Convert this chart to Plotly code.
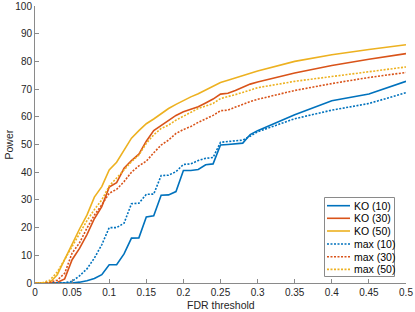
import plotly.graph_objects as go

fdr = [0.00, 0.01, 0.02, 0.03, 0.04, 0.05, 0.06, 0.07, 0.08, 0.09,
       0.10, 0.11, 0.12, 0.13, 0.14, 0.15, 0.16, 0.17, 0.18, 0.19,
       0.20, 0.21, 0.22, 0.23, 0.24, 0.25, 0.26, 0.27, 0.28, 0.29,
       0.30, 0.35, 0.40, 0.45, 0.50]

ko10 = [0, 0, 0, 0, 0, 0, 0.3, 0.8, 1.6, 3.0,
        6.6, 6.6, 10.5, 16.2, 16.3, 23.8, 24.3, 31.7, 31.8, 33.0,
        40.6, 40.6, 41.0, 42.7, 43.0, 49.8, 50.0, 50.2, 50.5, 53.6,
        55.0, 60.7, 65.8, 68.2, 72.8]
ko30 = [0, 0, 0, 0.2, 1.5, 8.4, 12.5, 17.5, 23.2, 27.6,
        34.6, 36.2, 41.4, 44.2, 46.5, 51.2, 55.0, 56.8, 58.5, 60.5,
        61.8, 62.6, 63.6, 65.0, 66.4, 68.2, 68.5, 69.5, 70.6, 71.8,
        72.6, 75.8, 78.5, 80.8, 82.8]
ko50 = [0, 0, 0.2, 3.0, 8.5, 14.5, 19.5, 24.5, 31.0, 34.8,
        40.8, 43.6, 48.0, 52.3, 55.0, 57.5, 59.2, 61.2, 63.0, 64.5,
        66.0, 67.2, 68.3, 69.6, 70.8, 72.4, 73.2, 74.0, 74.8, 75.6,
        76.5, 80.0, 82.4, 84.3, 86.0]
max10 = [0, 0, 0, 0, 0.1, 0.6, 2.6, 5.1, 9.0, 13.8,
         20.0, 20.0, 21.6, 28.6, 28.8, 32.0, 32.1, 38.8, 38.9, 40.2,
         42.8, 43.0, 44.2, 45.0, 45.3, 50.8, 51.0, 51.2, 51.6, 53.0,
         54.6, 59.3, 62.4, 64.8, 68.7]
max30 = [0, 0, 0.3, 1.0, 3.5, 10.8, 14.5, 19.8, 24.5, 28.2,
         32.4, 33.8, 36.6, 40.0, 42.3, 44.0, 47.0, 49.8, 51.6, 54.0,
         55.4, 56.5, 58.0, 59.3, 60.5, 62.2, 62.4, 63.5, 64.6, 65.5,
         66.3, 69.5, 72.0, 74.2, 76.0]
max50 = [0, 0.1, 1.0, 4.0, 8.5, 13.2, 17.5, 22.5, 26.5, 30.0,
         35.0, 37.8, 40.8, 43.8, 46.2, 50.4, 53.5, 55.8, 57.0, 58.8,
         60.2, 61.8, 63.0, 63.9, 64.8, 66.6, 67.2, 68.0, 68.8, 69.6,
         70.5, 72.8, 74.6, 76.4, 78.0]

names = ["KO (10)", "KO (30)", "KO (50)", "max (10)", "max (30)", "max (50)"]
series = [ko10, ko30, ko50, max10, max30, max50]
colors = ["#0072BD", "#D95319", "#EDB120", "#0072BD", "#D95319", "#EDB120"]
dashes = ["solid", "solid", "solid", "2px,1.5px", "2px,1.5px", "2px,1.5px"]

xticks = [0, 0.05, 0.1, 0.15, 0.2, 0.25, 0.3, 0.35, 0.4, 0.45, 0.5]
xticklabels = ["0", "0.05", "0.1", "0.15", "0.2", "0.25", "0.3", "0.35", "0.4", "0.45", "0.5"]
yticks = [0, 10, 20, 30, 40, 50, 60, 70, 80, 90, 100]

W, H = 415, 312
ML, MR, MT, MB = 35, 9, 6, 29
PW, PH = W - ML - MR, H - MT - MB

def px_x(p):
    return (p - ML) / PW

def px_y(p):
    return (H - MB - p) / PH

fig = go.Figure()
for n, s, c, d in zip(names, series, colors, dashes):
    fig.add_trace(go.Scatter(x=fdr, y=s, mode="lines", name=n, showlegend=False,
                             line=dict(color=c, width=1.6, dash=d)))

font = "Liberation Sans, Arial, Helvetica, sans-serif"
axis_common = dict(showgrid=False, zeroline=False, showline=True, automargin=False,
                   linecolor="#8a8a8a", linewidth=1, ticks="inside",
                   ticklen=4, tickcolor="#8a8a8a", mirror=False,
                   tickfont=dict(family=font, size=10, color="#262626"))
fig.update_xaxes(range=[0, 0.5], tickvals=xticks, ticktext=xticklabels, **axis_common)
fig.update_yaxes(range=[0, 100], tickvals=yticks, **axis_common)

annotations = [
    dict(text="FDR threshold", xref="paper", yref="paper", x=0.5, y=px_y(305),
         showarrow=False, xanchor="center", yanchor="middle",
         font=dict(family=font, size=10.5, color="#262626")),
    dict(text="Power", xref="paper", yref="paper", x=px_x(8), y=0.5, textangle=-90,
         showarrow=False, xanchor="center", yanchor="middle",
         font=dict(family=font, size=10.5, color="#262626")),
]

# legend box (MATLAB style, compact)
shapes = [dict(type="rect", xref="paper", yref="paper",
               x0=px_x(324.5), x1=px_x(394.5), y0=px_y(276.5), y1=px_y(197.5),
               line=dict(color="#8a8a8a", width=1), fillcolor="white", layer="above")]
row_y = [205.7, 218.3, 231.0, 244.0, 256.8, 269.4]
for n, c, d, ry in zip(names, colors, dashes, row_y):
    shapes.append(dict(type="line", xref="paper", yref="paper",
                       x0=px_x(327), x1=px_x(350), y0=px_y(ry), y1=px_y(ry),
                       line=dict(color=c, width=1.6, dash=d), layer="above"))
    annotations.append(dict(text=n, xref="paper", yref="paper", x=px_x(351.5), y=px_y(ry),
                            showarrow=False, xanchor="left", yanchor="middle",
                            font=dict(family=font, size=10.5, color="#000000")))

fig.update_layout(
    width=W, height=H,
    margin=dict(l=ML, r=MR, t=MT, b=MB),
    paper_bgcolor="white", plot_bgcolor="white",
    showlegend=False,
    shapes=shapes,
    annotations=annotations,
)
fig.write_html("out.html", config={"displayModeBar": False},
               post_script="document.body.style.margin='0';document.body.style.overflow='hidden';")
